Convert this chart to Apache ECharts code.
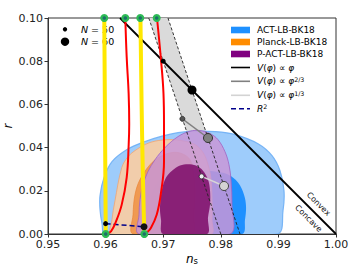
<!DOCTYPE html>
<html><head><meta charset="utf-8">
<script src="https://cdn.jsdelivr.net/npm/echarts@6/dist/echarts.min.js"></script>
<style>html,body{margin:0;padding:0;background:#fff}#c{width:356px;height:269px}</style>
</head><body><div id="c"></div>
<script>
// ---- axis ticks ----
const nsTicks = [0.95, 0.96, 0.97, 0.98, 0.99, 1.00];
const rTicks = [0.00, 0.02, 0.04, 0.06, 0.08, 0.10];

// ---- contours [ns, r] ----
const actOuter = [[0.95990,0],[0.95938,0.0048],[0.95903,0.0113],[0.95903,0.0178],[0.95972,0.0261],[0.96111,0.0335],[0.96372,0.0391],[0.96684,0.0428],[0.96979,0.0453],[0.97257,0.0469],[0.97552,0.0476],[0.97899,0.0474],[0.98247,0.0460],[0.98646,0.0418],[0.98889,0.0363],[0.99028,0.0293],[0.99097,0.0201],[0.99080,0.0108],[0.98976,0]];
const actInner = [[0.96736,0],[0.96736,0.0089],[0.96771,0.0159],[0.96858,0.0228],[0.97031,0.0270],[0.97292,0.0293],[0.97639,0.0298],[0.97899,0.0289],[0.98125,0.0275],[0.98299,0.0238],[0.98403,0.0182],[0.98438,0.0127],[0.98420,0.0066],[0.98368,0]];
const planckOuter = [[0.96106,0],[0.96111,0.0066],[0.96163,0.0154],[0.96280,0.0307],[0.96389,0.0358],[0.96510,0.0386],[0.96684,0.0414],[0.96858,0.0430],[0.97118,0.0437],[0.97326,0.0432],[0.97552,0.0414],[0.97691,0.0377],[0.97778,0.0321],[0.97830,0.0252],[0.97847,0.0159],[0.97847,0.0066],[0.97830,0]];
const planckInner = [[0.96476,0],[0.96476,0.0089],[0.96510,0.0182],[0.96597,0.0252],[0.96771,0.0321],[0.96944,0.0358],[0.97153,0.0377],[0.97326,0.0372],[0.97465,0.0344],[0.97535,0.0275],[0.97552,0.0182],[0.97535,0.0089],[0.97500,0]];
const pactOuter = [[0.96580,0],[0.96580,0.0089],[0.96597,0.0159],[0.96649,0.0228],[0.96736,0.0289],[0.96858,0.0344],[0.97031,0.0400],[0.97257,0.0451],[0.97465,0.0476],[0.97639,0.0479],[0.97813,0.0465],[0.97951,0.0437],[0.98073,0.0381],[0.98142,0.0321],[0.98177,0.0252],[0.98194,0.0136],[0.98160,0]];
const pactInner = [[0.96997,0],[0.96962,0.0066],[0.96944,0.0122],[0.96979,0.0205],[0.97049,0.0261],[0.97153,0.0293],[0.97292,0.0317],[0.97431,0.0323],[0.97569,0.0317],[0.97691,0.0293],[0.97778,0.0252],[0.97813,0.0201],[0.97813,0.0136],[0.97778,0.0076],[0.97760,0]];

// ---- model predictions ----
const bandN50 = [[0.9675,0.1],[0.98,0]];
const bandN60 = [[0.97083,0.1],[0.98333,0]];
const linearLine = [[0.9625,0.1],[1.0,0]];
const linearN50 = [[0.97,0.08]];
const linearN60 = [[0.975,0.06667]];
const twoThirdsLine = [[0.97333,0.05333],[0.97778,0.04444]];
const oneThirdLine = [[0.97667,0.02667],[0.98056,0.02222]];
const r2Line = [[0.96,0.0048],[0.96667,0.00333]];
const yellow1 = [[0.95977,0.1],[0.95990,0.05],[0.96002,0]];
const yellow2 = [[0.96605,0.1],[0.96625,0.06],[0.96645,0.03],[0.96662,0.01],[0.96672,0]];
const red1 = [[0.96342,0.1],[0.96366,0.082],[0.96400,0.065],[0.96410,0.051],[0.96401,0.0414],[0.96366,0.0261],[0.96280,0.0136],[0.96181,0.0058],[0.96094,0.0012],[0.96010,0]];
const red2 = [[0.96892,0.1],[0.96957,0.082],[0.97005,0.065],[0.97014,0.0506],[0.97014,0.0335],[0.96957,0.0182],[0.96887,0.0089],[0.96788,0.0029],[0.96714,0.0006],[0.96675,0]];
const greenTop = [[0.95977,0.1],[0.96342,0.1],[0.96602,0.1],[0.96887,0.1]];
const greenBottom = [[0.96002,0],[0.96672,0]];

const FONT = 'DejaVu Sans';
const chart = echarts.init(document.getElementById('c'), null, {renderer:'svg'});

function poly(pts, fill, stroke, lw, z, smooth) {
  return {type:'custom', data: pts, encode:{x:0,y:1}, z:z, clip:true, silent:true,
    renderItem: function(params, api){
      if (params.dataIndex !== 0) return null;
      const points = pts.map(p => api.coord(p));
      return {type:'polygon', shape:{points: points, smooth: smooth}, style:{fill: fill, stroke: stroke, lineWidth: lw}};
    }};
}
function line(pts, color, width, z, type, smooth) {
  return {type:'line', data: pts, showSymbol:false, z:z, silent:true, smooth: smooth||false,
    lineStyle:{color:color, width:width, type: type||'solid', cap:'butt'}};
}
function dots(pts, size, fill, border, bw, z) {
  return {type:'scatter', data: pts, symbol:'circle', symbolSize:size, z:z, clip:false, silent:true,
    itemStyle:{color:fill, borderColor:border, borderWidth:bw, opacity:1}};
}

const series = [
  poly([bandN50[0], bandN60[0], bandN60[1], bandN50[1]], 'rgb(218,218,218)', 'none', 0, 1, 0),
  poly(actOuter, '#ffffff', 'none', 0, 1.5, 0.35),
  poly(actOuter, 'rgba(120,185,250,0.72)', 'rgba(110,175,245,0.9)', 1.2, 2, 0.35),
  poly(actInner, 'rgb(30,144,255)', 'none', 0, 2, 0.35),
  poly(planckOuter, 'rgba(255,205,156,0.85)', 'rgba(240,165,115,0.8)', 1, 2, 0.35),
  poly(planckInner, 'rgba(240,140,60,0.8)', 'rgba(235,130,50,0.8)', 0.8, 2, 0.35),
  poly(pactOuter, 'rgba(200,150,215,0.85)', 'rgba(160,100,195,0.8)', 1, 2, 0.35),
  poly(pactInner, 'rgba(125,10,105,0.85)', 'none', 0, 2, 0.35),
  line(bandN50, '#222', 0.9, 3, [3,2]),
  line(bandN60, '#222', 0.9, 3, [3,2]),
  line(linearLine, '#000', 1.8, 3),
  line(twoThirdsLine, '#808080', 1.5, 3),
  line(oneThirdLine, '#d6d6d6', 1.5, 3),
  line(r2Line, '#00008b', 1.5, 3, [5,3]),
  line(yellow1, '#ffe800', 4, 4, 'solid', 0.3),
  line(yellow2, '#ffe800', 4, 4, 'solid', 0.3),
  line(red1, '#ff0000', 2, 5, 'solid', 0.4),
  line(red2, '#ff0000', 2, 5, 'solid', 0.4),
  dots(linearN50, 5, '#000', '#000', 0, 6),
  dots(linearN60, 9, '#000', '#000', 0, 6),
  dots([twoThirdsLine[0]], 5, '#555', '#222', 0.8, 6),
  dots([twoThirdsLine[1]], 9, '#808080', '#333', 1, 6),
  dots([oneThirdLine[0]], 5, '#f0f0f0', '#222', 0.8, 6),
  dots([oneThirdLine[1]], 9, '#d3d3d3', '#444', 1, 6),
  dots([r2Line[0]], 5, '#000', '#000', 0, 6),
  dots([r2Line[1]], 7, '#111', '#000', 0, 6),
  dots(greenTop, 8, '#2dbb55', '#2dbb55', 0, 7),
  dots(greenBottom, 8, '#2dbb55', '#2dbb55', 0, 7),
  dots(greenTop, 3.5, '#1d6f6a', '#1d6f6a', 0, 8),
  dots(greenBottom, 3.5, '#1d6f6a', '#1d6f6a', 0, 8)
];

const rich = {
  i:{fontStyle:'italic', fontFamily:FONT, fontSize:9, color:'#111'},
  n:{fontFamily:FONT, fontSize:9, color:'#111'},
  sup:{fontFamily:FONT, fontSize:6.3, color:'#111', verticalAlign:'top', padding:[0,0,4,0]}
};
const legendRows = [
  {y:30,  kind:'rect', color:'#1E90FF', text:'{n|ACT-LB-BK18}'},
  {y:42,  kind:'rect', color:'#FF8C00', text:'{n|Planck-LB-BK18}'},
  {y:54,  kind:'rect', color:'#800080', text:'{n|P-ACT-LB-BK18}'},
  {y:67.5,kind:'line', color:'#000', text:'{i|V}{n|(}{i|φ}{n|) ∝ }{i|φ}'},
  {y:81.3,kind:'line', color:'#808080', text:'{i|V}{n|(}{i|φ}{n|) ∝ }{i|φ}{sup|2/3}'},
  {y:95.3,kind:'line', color:'#d3d3d3', text:'{i|V}{n|(}{i|φ}{n|) ∝ }{i|φ}{sup|1/3}'},
  {y:108.7,kind:'dash', color:'#00008b', text:'{i|R}{sup|2}'}
];
const graphic = [];
legendRows.forEach(row => {
  if (row.kind === 'rect') {
    graphic.push({type:'rect', shape:{x:231, y:row.y-3.3, width:19, height:6.6}, style:{fill:row.color}, z:100});
  } else {
    graphic.push({type:'line', shape:{x1:231, y1:row.y, x2:250, y2:row.y},
      style:{stroke:row.color, lineWidth:1.6, lineDash: row.kind==='dash' ? [5,3] : null}, z:100});
  }
  graphic.push({type:'text', x:257, y:row.y, z:100,
    style:{text:row.text, rich:rich, verticalAlign:'middle', align:'left', font:'9px '+FONT}});
});
// top-left legend
graphic.push({type:'circle', shape:{cx:65, cy:29.3, r:2.2}, style:{fill:'#000'}, z:0});
graphic.push({type:'circle', shape:{cx:65, cy:41.7, r:4.2}, style:{fill:'#000'}, z:0});
graphic.push({type:'text', x:81, y:29.3, z:0, style:{text:'{i|N}{n| = 50}', rich:{i:{fontStyle:'italic',fontFamily:FONT,fontSize:9.5,color:'#111'},n:{fontFamily:FONT,fontSize:9.5,color:'#111'}}, verticalAlign:'middle'}});
graphic.push({type:'text', x:81, y:41.7, z:0, style:{text:'{i|N}{n| = 60}', rich:{i:{fontStyle:'italic',fontFamily:FONT,fontSize:9.5,color:'#111'},n:{fontFamily:FONT,fontSize:9.5,color:'#111'}}, verticalAlign:'middle'}});
// Convex / Concave
graphic.push({type:'text', x:318.5, y:204, rotation:-Math.PI/4, z:100,
  style:{text:'Convex', font:'8px '+FONT, fill:'#111', align:'center', verticalAlign:'middle'}});
graphic.push({type:'text', x:308.5, y:218.5, rotation:-Math.PI/4, z:100,
  style:{text:'Concave', font:'8px '+FONT, fill:'#111', align:'center', verticalAlign:'middle'}});
// axis names
graphic.push({type:'text', x:192, y:259, z:100,
  style:{text:'{i|n}{s|s}', rich:{i:{fontStyle:'italic',fontFamily:FONT,fontSize:12,color:'#111'}, s:{fontFamily:FONT,fontSize:8.5,color:'#111',verticalAlign:'bottom',padding:[4,0,0,0]}}, align:'center', verticalAlign:'middle'}});
graphic.push({type:'text', x:8, y:126, rotation:Math.PI/2, z:100,
  style:{text:'r', font:'italic 12px '+FONT, fill:'#111', align:'center', verticalAlign:'middle'}});

const axisCommon = {
  type:'value', splitLine:{show:false},
  axisLine:{show:true, onZero:false, lineStyle:{color:'#333', width:1}},
  axisTick:{show:true, length:3.5, inside:false, lineStyle:{color:'#333', width:1}},
  axisLabel:{fontFamily:FONT, fontSize:11, color:'#222'}
};
chart.setOption({
  animation:false,
  backgroundColor:'#fff',
  grid:{left:48, right:20, top:18, bottom:35, show:true, borderColor:'#333', borderWidth:1, backgroundColor:'transparent'},
  xAxis: Object.assign({}, axisCommon, {min:nsTicks[0], max:nsTicks[nsTicks.length-1], interval:0.01,
    axisLabel:Object.assign({}, axisCommon.axisLabel, {margin:5, formatter: v => v.toFixed(2)})}),
  yAxis: Object.assign({}, axisCommon, {min:rTicks[0], max:rTicks[rTicks.length-1], interval:0.02,
    axisLabel:Object.assign({}, axisCommon.axisLabel, {margin:5, formatter: v => v.toFixed(2)})}),
  series: series,
  graphic: graphic
});
</script></body></html>
